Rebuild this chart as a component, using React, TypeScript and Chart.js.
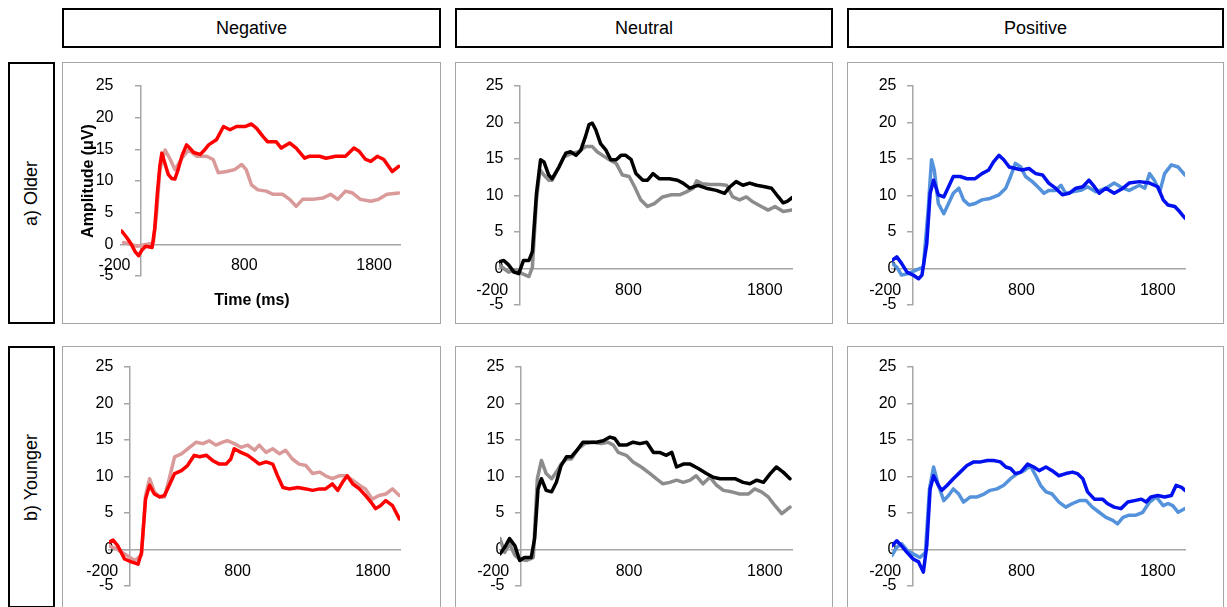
import React, { useEffect, useRef } from "react";
import { Chart, registerables } from "chart.js";
Chart.register(...registerables);

type Pt = [number, number];

const CONDITIONS = ["Negative", "Neutral", "Positive"];
const GROUPS = ["a) Older", "b) Younger"];
const X_TICKS = [-200, 800, 1800];
const X_MIN = -150;
const X_MAX = 2000;
const Y_MIN = -5;
const Y_MAX = 25;
const Y_STEP = 5;
const Y_TITLE = "Amplitude (μV)";
const X_TITLE = "Time (ms)";

// [time ms, amplitude µV]
const OLDER_NEG_STRONG: Pt[] = [[-145,2.1],[-110,1.2],[-70,0],[-40,-1.2],[-15,-1.8],[15,-0.8],[40,-0.3],[90,-0.5],[110,2.5],[130,8],[150,12.5],[165,14.4],[185,13],[215,11],[240,10.4],[265,10.3],[290,11.8],[320,14],[355,15.7],[380,15.2],[410,14.5],[460,14.2],[490,14.8],[525,15.7],[585,16.5],[640,18.6],[690,18.1],[740,18.6],[805,18.6],[855,19.0],[895,18.3],[945,17.0],[980,16.2],[1045,16.2],[1085,15.2],[1150,16.0],[1200,15.2],[1265,13.6],[1300,13.9],[1380,13.9],[1430,13.6],[1505,13.9],[1580,13.9],[1645,15.2],[1685,14.7],[1735,13.4],[1775,13.1],[1825,13.9],[1875,13.4],[1940,11.5],[1990,12.3]];
const OLDER_NEG_FAINT: Pt[] = [[-130,0.3],[-25,-0.3],[50,0],[100,0.3],[125,5],[150,11.8],[190,14.9],[230,13.4],[265,11.8],[320,13.6],[370,14.9],[435,13.9],[510,13.9],[560,13.4],[600,11.3],[665,11.5],[725,11.8],[780,12.6],[815,11.8],[855,9.4],[905,8.6],[970,8.4],[1020,7.9],[1095,7.9],[1150,7.1],[1200,6.0],[1250,7.1],[1325,7.1],[1405,7.3],[1465,7.9],[1520,7.1],[1580,8.4],[1635,8.1],[1695,7.1],[1775,6.8],[1835,7.1],[1900,7.9],[1990,8.1]];

const OLDER_NEU_STRONG: Pt[] = [[-150,0.9],[-115,1.1],[-80,0.5],[-40,-0.5],[-5,-0.7],[30,1.1],[70,1.1],[95,2.3],[125,10.3],[155,14.9],[180,14.6],[215,12.8],[240,12.3],[290,13.9],[340,15.8],[375,16.0],[415,15.5],[450,16.2],[485,18.1],[510,19.7],[535,19.9],[560,19.0],[595,17.1],[635,16.2],[670,14.9],[710,14.9],[745,15.5],[780,15.5],[820,14.9],[855,13.0],[905,12.1],[940,12.1],[980,13.0],[1025,12.3],[1100,12.3],[1160,12.1],[1200,11.7],[1250,11.0],[1310,11.4],[1370,11.0],[1445,10.7],[1505,10.3],[1545,11.2],[1590,11.9],[1640,11.4],[1690,11.7],[1740,11.4],[1800,11.2],[1850,11.0],[1900,9.8],[1935,9.0],[1965,9.2],[2000,9.7]];
const OLDER_NEU_FAINT: Pt[] = [[-150,0.5],[-115,0],[-80,-0.5],[-30,-0.2],[20,-0.7],[70,-1.1],[95,0.2],[125,9.4],[150,13.5],[180,12.8],[215,12.1],[240,12.1],[290,13.9],[325,15.3],[390,15.8],[435,16.0],[485,16.7],[535,16.7],[570,16.0],[610,15.5],[660,14.9],[710,14.4],[755,12.8],[805,12.6],[845,11.2],[890,9.4],[940,8.5],[990,8.9],[1050,9.8],[1115,10.1],[1175,10.1],[1225,10.5],[1275,11.0],[1300,12.0],[1340,11.6],[1400,11.5],[1470,11.5],[1520,11.4],[1565,9.8],[1615,9.4],[1665,9.8],[1715,9.1],[1775,8.5],[1825,8.0],[1875,8.5],[1935,7.8],[2000,8.0]];

const OLDER_POS_STRONG: Pt[] = [[-150,1.1],[-115,1.6],[-80,0.7],[-40,-0.5],[5,-0.9],[45,-1.4],[70,-0.9],[105,3.4],[130,10.3],[155,12.1],[190,10.1],[230,9.8],[265,11.2],[300,12.6],[350,12.6],[400,12.3],[460,12.3],[510,13.0],[560,13.5],[595,14.6],[635,15.5],[670,14.9],[710,13.9],[755,13.7],[805,13.5],[855,13.7],[905,13.0],[955,12.8],[1000,11.7],[1050,11.0],[1100,10.1],[1150,10.3],[1200,11.0],[1250,11.2],[1295,12.1],[1335,11.2],[1370,10.3],[1420,11.0],[1480,10.3],[1545,11.0],[1590,11.7],[1665,11.9],[1740,11.7],[1800,11.2],[1840,9.4],[1875,8.7],[1925,8.5],[1960,7.8],[2000,6.9]];
const OLDER_POS_FAINT: Pt[] = [[-150,0.7],[-115,0.2],[-80,-0.9],[-30,-0.7],[30,-0.2],[80,0.2],[115,8],[140,14.9],[160,13.5],[190,8.9],[230,7.5],[265,8.9],[300,10.3],[340,11.0],[375,9.4],[415,8.7],[460,8.9],[510,9.4],[570,9.6],[635,10.1],[685,11.0],[720,12.6],[755,14.4],[795,13.9],[830,12.6],[880,11.9],[930,11.0],[965,10.3],[1000,10.7],[1050,10.7],[1090,11.4],[1125,10.3],[1175,10.5],[1235,10.7],[1285,11.2],[1345,10.5],[1420,11.0],[1480,11.7],[1545,11.0],[1590,10.7],[1665,11.4],[1705,11.0],[1740,13.0],[1775,12.1],[1815,10.5],[1850,13.0],[1900,14.2],[1950,13.9],[2000,12.8]];

const YOUNGER_NEG_STRONG: Pt[] = [[-150,1.0],[-120,1.3],[-85,0.5],[-35,-1.3],[15,-1.7],[65,-2.0],[90,-0.4],[120,6.9],[150,8.8],[185,7.6],[225,7.2],[260,7.4],[295,8.8],[335,10.4],[385,10.8],[430,11.5],[480,12.9],[520,12.7],[570,12.9],[615,12.2],[665,11.7],[715,11.7],[750,12.4],[775,13.8],[825,13.3],[875,12.9],[925,12.2],[960,11.7],[1010,12.0],[1060,11.7],[1095,10.1],[1135,8.5],[1180,8.3],[1245,8.5],[1305,8.3],[1355,8.1],[1405,8.3],[1450,8.3],[1500,9.0],[1540,8.1],[1575,9.2],[1610,10.1],[1650,9.0],[1700,8.3],[1745,7.4],[1785,6.5],[1820,5.6],[1855,6.0],[1895,6.7],[1945,6.0],[1995,4.2]];
const YOUNGER_NEG_FAINT: Pt[] = [[-150,0.5],[-95,0.1],[-20,-0.8],[40,-1.5],[90,-0.8],[120,7.4],[150,9.7],[185,7.9],[225,7.2],[260,7.2],[295,9.7],[335,12.7],[385,13.1],[445,14.0],[495,14.7],[545,14.5],[590,14.9],[640,14.3],[690,14.7],[725,14.9],[775,14.5],[825,14.0],[875,14.3],[925,13.6],[960,14.3],[1010,13.3],[1060,13.8],[1110,13.1],[1155,13.6],[1205,12.4],[1255,11.7],[1305,11.5],[1355,10.4],[1405,10.6],[1450,10.1],[1500,9.7],[1550,10.1],[1600,10.1],[1650,9.5],[1700,8.8],[1745,8.3],[1795,6.9],[1845,7.4],[1895,7.6],[1945,8.3],[1995,7.4]];

const YOUNGER_NEU_STRONG: Pt[] = [[-150,-0.6],[-115,0.3],[-80,1.5],[-40,0.5],[-5,-1.5],[30,-1.1],[80,-1.1],[105,1.5],[130,8.3],[155,9.7],[190,8.1],[230,7.9],[265,9.2],[300,11.5],[340,12.7],[375,12.7],[425,13.8],[460,14.7],[510,14.7],[560,14.7],[610,14.9],[660,15.4],[695,15.2],[730,14.3],[780,14.3],[830,14.7],[880,14.5],[930,14.7],[980,13.3],[1025,13.3],[1075,12.9],[1115,13.3],[1150,11.3],[1200,11.7],[1250,11.7],[1310,11.1],[1370,10.4],[1420,9.9],[1470,9.7],[1520,9.7],[1580,9.7],[1640,9.2],[1690,9.0],[1740,9.5],[1790,9.2],[1840,10.4],[1885,11.3],[1935,10.6],[1985,9.7]];
const YOUNGER_NEU_FAINT: Pt[] = [[-150,1.5],[-115,-0.4],[-80,0.8],[-40,-0.8],[-5,-1.3],[45,-1.5],[95,-1.1],[125,9.7],[155,12.2],[190,10.4],[230,9.7],[265,10.6],[300,11.7],[340,12.4],[375,12.4],[425,13.8],[475,14.5],[535,14.7],[595,14.5],[645,14.7],[685,14.3],[720,13.3],[780,12.9],[830,12.0],[890,11.3],[955,10.4],[1000,9.7],[1050,9.0],[1100,9.2],[1150,9.5],[1200,9.2],[1250,9.5],[1295,10.1],[1345,9.0],[1395,9.9],[1445,8.8],[1495,8.1],[1555,7.9],[1615,7.6],[1680,7.6],[1725,8.3],[1775,7.9],[1825,7.2],[1875,6.0],[1925,4.9],[1985,5.8]];

const YOUNGER_POS_STRONG: Pt[] = [[-150,0.5],[-115,1.2],[-80,0.5],[-40,-0.4],[5,-1.3],[45,-1.7],[80,-3.1],[105,0.5],[130,8.3],[155,10.1],[190,8.8],[215,8.1],[255,8.8],[300,9.7],[350,10.6],[400,11.5],[450,12.0],[500,12.0],[550,12.2],[595,12.2],[645,12.0],[685,11.3],[720,11.1],[755,10.4],[795,10.6],[845,11.7],[890,11.3],[930,10.8],[980,11.3],[1025,10.8],[1075,10.1],[1125,10.4],[1175,10.6],[1210,10.4],[1250,9.7],[1285,7.9],[1335,6.9],[1395,6.9],[1430,6.3],[1480,5.8],[1530,5.6],[1580,6.5],[1630,6.7],[1680,6.9],[1715,6.5],[1750,7.2],[1800,7.4],[1850,7.2],[1900,7.4],[1935,8.8],[1975,8.5],[2000,8.1]];
const YOUNGER_POS_FAINT: Pt[] = [[-150,-0.8],[-115,0.3],[-80,0.8],[-40,-0.1],[5,-0.6],[55,-1.1],[95,-0.4],[125,8.3],[155,11.3],[190,8.8],[230,6.7],[265,7.4],[300,8.3],[340,7.6],[375,6.5],[425,7.2],[475,7.2],[525,7.6],[570,8.1],[620,8.3],[670,8.8],[720,9.7],[770,10.4],[820,10.8],[865,11.5],[905,10.1],[940,8.8],[980,7.9],[1025,7.6],[1075,6.5],[1125,5.8],[1175,6.3],[1225,6.7],[1275,6.7],[1320,5.8],[1370,5.1],[1420,4.4],[1470,4.0],[1505,3.5],[1545,4.4],[1590,4.7],[1640,4.7],[1690,5.1],[1740,6.5],[1790,7.2],[1840,6.0],[1875,6.3],[1910,6.0],[1950,5.1],[2000,5.6]];

const FONT = "'Liberation Sans', Arial, Helvetica, sans-serif";
const AXIS_GREY = "#a6a6a6";
const COL_X = [62, 455, 847];
const COL_W = [379, 378, 377];
const ROW_Y = [62, 346];
const ROW_H = 262;

const COLORS = [
  { strong: "#ff0000", faint: "#d99a99" },
  { strong: "#000000", faint: "#8c8c8c" },
  { strong: "#0010ee", faint: "#5592dc" },
];

const DATA = [
  [[OLDER_NEG_STRONG, OLDER_NEG_FAINT], [OLDER_NEU_STRONG, OLDER_NEU_FAINT], [OLDER_POS_STRONG, OLDER_POS_FAINT]],
  [[YOUNGER_NEG_STRONG, YOUNGER_NEG_FAINT], [YOUNGER_NEU_STRONG, YOUNGER_NEU_FAINT], [YOUNGER_POS_STRONG, YOUNGER_POS_FAINT]],
];

// chart-area padding inside each panel box [left, right, top, bottom]
const PADS = [
  [[59, 41, 24, 48], [44, 41, 24, 19], [45, 39, 24, 19]],
  [[47, 41, 21, 22], [45, 41, 21, 22], [45, 39, 21, 22]],
];

// y tick labels sit left of the y-axis (which crosses at t = 0)
const yTickLabels = {
  id: "yTickLabels",
  beforeDatasetsDraw(chart: any, _args: any, opts: any) {
    const { ctx, scales } = chart;
    const xs = scales.x;
    const ys = scales.y;
    const px = xs.getPixelForValue(0) - (opts.gap || 17);
    ctx.save();
    ctx.font = `16px ${FONT}`;
    ctx.fillStyle = "#000";
    ctx.textAlign = "right";
    ctx.textBaseline = "middle";
    ys.ticks.forEach((t: any) => ctx.fillText(String(t.value), px, ys.getPixelForValue(t.value)));
    ctx.restore();
  },
};

type PanelProps = {
  x: number; y: number; w: number; h: number;
  pad: number[]; strong: Pt[]; faint: Pt[];
  strongColor: string; faintColor: string; yLabelGap: number;
};

function Panel(p: PanelProps) {
  const ref = useRef<HTMLCanvasElement>(null);
  useEffect(() => {
    const ds = (pts: Pt[], color: string) => ({
      data: pts.map(([t, v]) => ({ x: t, y: v })),
      borderColor: color,
      borderWidth: 3.5,
      pointRadius: 0,
      tension: 0,
      borderJoinStyle: "round" as const,
      borderCapStyle: "round" as const,
      fill: false,
    });
    const chart = new Chart(ref.current!, {
      type: "line",
      data: { datasets: [ds(p.strong, p.strongColor), ds(p.faint, p.faintColor)] },
      plugins: [yTickLabels],
      options: {
        animation: false,
        responsive: false,
        maintainAspectRatio: false,
        devicePixelRatio: 1,
        layout: { padding: { left: p.pad[0], right: p.pad[1], top: p.pad[2], bottom: p.pad[3] } },
        plugins: {
          legend: { display: false },
          tooltip: { enabled: false },
          yTickLabels: { gap: p.yLabelGap },
        } as any,
        scales: {
          x: {
            type: "linear",
            min: X_MIN,
            max: X_MAX,
            position: { y: 0 } as any,
            afterBuildTicks: (s: any) => { s.ticks = X_TICKS.map((v) => ({ value: v })); },
            grid: { display: false, drawTicks: false },
            border: { display: true, color: AXIS_GREY, width: 1.5 },
            ticks: {
              autoSkip: false, maxRotation: 0, padding: 12, color: "#000",
              font: { family: FONT, size: 16 },
              callback: (v: any) => String(v),
            },
          },
          y: {
            type: "linear",
            min: Y_MIN,
            max: Y_MAX,
            position: { x: 0 } as any,
            grid: { drawOnChartArea: false, drawTicks: true, tickLength: 5, color: AXIS_GREY, lineWidth: 1.5 },
            border: { display: true, color: AXIS_GREY, width: 1.5 },
            ticks: {
              display: false,
              stepSize: Y_STEP,
              callback: (v: any) => String(v),
            },
          },
        },
      },
    });
    return () => chart.destroy();
  }, []);
  return (
    <div style={{ position: "absolute", left: p.x, top: p.y, width: p.w, height: p.h }}>
      <canvas ref={ref} width={p.w} height={p.h} style={{ position: "absolute", left: 0, top: 0, width: p.w, height: p.h }} />
      <div style={{ position: "absolute", left: 0, top: 0, width: p.w, height: p.h, border: `1.5px solid ${AXIS_GREY}`, boxSizing: "border-box", pointerEvents: "none" }} />
    </div>
  );
}

export default function App() {
  const boxText: React.CSSProperties = {
    position: "absolute", boxSizing: "border-box", border: "2px solid #000",
    display: "flex", alignItems: "center", justifyContent: "center",
    fontFamily: FONT, fontSize: 18, color: "#000", background: "#fff",
  };
  return (
    <div style={{ position: "absolute", left: 0, top: 0, width: 1227, height: 607, overflow: "hidden", background: "#fff" }}>
      {CONDITIONS.map((c, i) => (
        <div key={c} style={{ ...boxText, left: COL_X[i], top: 8, width: COL_W[i], height: 40 }}>{c}</div>
      ))}
      {GROUPS.map((g, r) => (
        <div key={g} style={{ ...boxText, left: 8, top: ROW_Y[r], width: 47, height: ROW_H }}>
          <span style={{ transform: "rotate(-90deg)", whiteSpace: "nowrap", display: "inline-block" }}>{g}</span>
        </div>
      ))}
      {DATA.map((row, r) =>
        row.map((pair, c) => (
          <Panel
            key={`${r}-${c}`}
            x={COL_X[c]} y={ROW_Y[r]} w={COL_W[c]} h={ROW_H}
            pad={PADS[r][c]}
            strong={pair[0]} faint={pair[1]}
            strongColor={COLORS[c].strong} faintColor={COLORS[c].faint}
            yLabelGap={r === 0 && c === 0 ? 27 : 16}
          />
        ))
      )}
      <div style={{ position: "absolute", left: 88, top: 181, transform: "translate(-50%, -50%) rotate(-90deg)", whiteSpace: "nowrap", fontFamily: FONT, fontWeight: "bold", fontSize: 16, color: "#000" }}>{Y_TITLE}</div>
      <div style={{ position: "absolute", left: 252, top: 300, transform: "translate(-50%, -50%)", whiteSpace: "nowrap", fontFamily: FONT, fontWeight: "bold", fontSize: 16, color: "#000" }}>{X_TITLE}</div>
    </div>
  );
}
